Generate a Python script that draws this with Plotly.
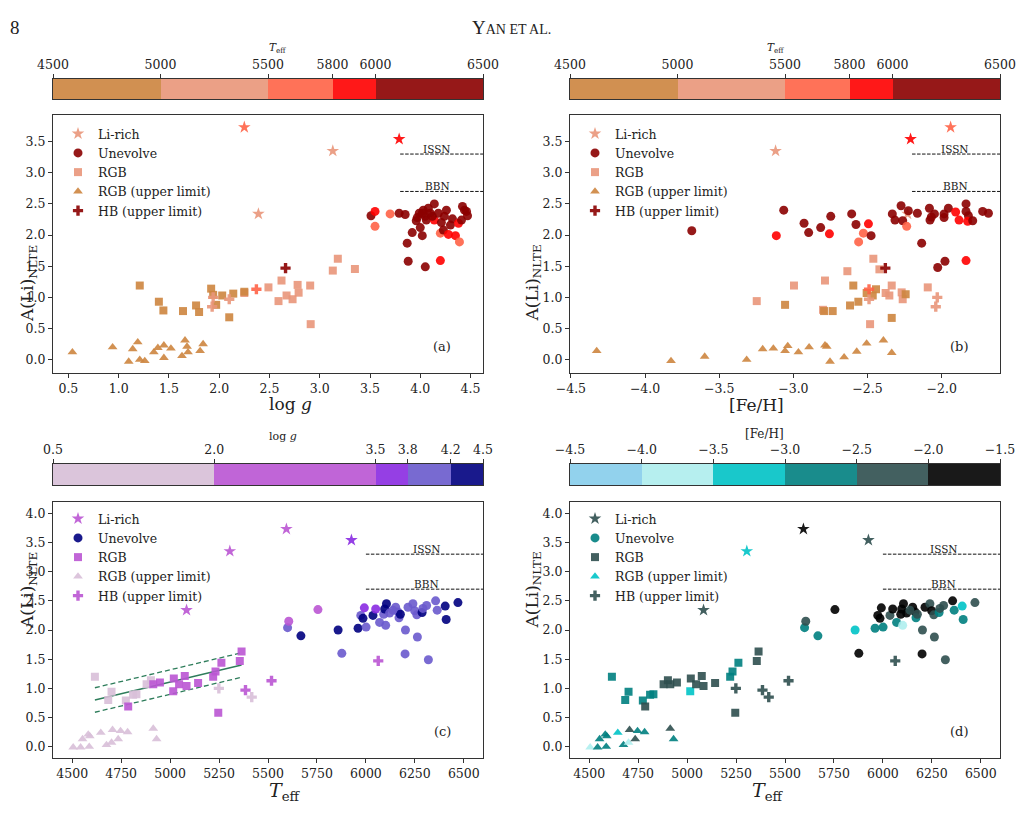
import numpy as np
import plotly.graph_objects as go

# ---------------- colour bins ----------------
TEFF_EDGES = [4500, 5000, 5500, 5800, 6000, 6500]
TEFF_LABELS = ["4500", "5000", "5500", "5800", "6000", "6500"]
TEFF_COLORS = ["#CD853F", "#E9967A", "#FF6347", "#FF0000", "#8B0000"]
LOGG_EDGES = [0.5, 2.0, 3.5, 3.8, 4.2, 4.5]
LOGG_LABELS = ["0.5", "2.0", "3.5", "3.8", "4.2", "4.5"]
LOGG_COLORS = ["#D8BFD8", "#BA55D3", "#8A2BE2", "#6A5ACD", "#000080"]
FEH_EDGES = [-4.5, -4.0, -3.5, -3.0, -2.5, -2.0, -1.5]
FEH_LABELS = ["\u22124.5", "\u22124.0", "\u22123.5", "\u22123.0", "\u22122.5", "\u22122.0", "\u22121.5"]
FEH_COLORS = ["#87CEEB", "#AFEEEE", "#00C3C6", "#008080", "#2F4F4F", "#000000"]

# reference levels
ISSN = 3.3
BBN = 2.7

# ---------------- shared catalogue (all panels) ----------------
LIRICH_TEFF = [5084, 5305, 5594, 5926]
LIRICH_LOGG = [2.39, 3.13, 2.25, 3.79]
LIRICH_FEH = [-2.23, -3.12, -1.94, -2.21]
LIRICH_ALI = [2.34, 3.35, 3.73, 3.54]

HB_TEFF = [5249, 5385, 5417, 5518, 6063]
HB_LOGG = [1.94, 2.10, 1.93, 2.37, 2.66]
HB_FEH = [-2.03, -2.49, -2.04, -2.49, -2.38]
HB_ALI = [1.00, 0.97, 0.85, 1.13, 1.47]

# ---------------- panels (c), (d): Teff vs A(Li) ----------------
UNEV_TEFF = [5600, 5606, 5668, 5755, 5858, 5877, 5960, 6001, 5974, 5992, 5985, 6036, 6050, 6070,
             6101, 6091, 6096, 6105, 6121, 6152, 6164, 6169, 6176, 6202, 6200, 6215, 6240, 6249,
             6260, 6263, 6287, 6291, 6310, 6319, 6356, 6364, 6405, 6410, 6470, 6138]
UNEV_ALI = [2.04, 2.15, 1.90, 2.35, 2.00, 1.60, 2.03, 2.05, 2.25, 2.38, 2.20, 2.25, 2.36, 2.13,
            2.08, 2.27, 2.36, 2.45, 2.29, 2.39, 2.31, 2.21, 2.27, 2.00, 1.59, 2.39, 2.45, 2.33,
            2.26, 1.88, 2.30, 2.37, 2.42, 1.49, 2.50, 2.34, 2.41, 2.18, 2.47, 2.34]
UNEV_LOGG = [4.00, 3.45, 4.35, 3.45, 4.30, 3.90, 4.30, 4.00, 4.10, 3.60, 4.25, 4.30, 3.55, 4.05,
             4.00, 4.10, 4.25, 4.30, 4.00, 4.05, 4.10, 4.15, 4.30, 4.00, 4.05, 4.10, 4.15, 4.10,
             4.00, 3.90, 4.40, 4.15, 4.10, 4.05, 4.15, 4.10, 4.40, 4.45, 4.40, 4.00]
UNEV_FEH = [-2.75, -2.30, -2.90, -1.85, -3.10, -1.98, -2.60, -2.80, -1.95, -1.90, -1.84, -2.33, -1.95, -2.58,
            -3.68, -1.82, -1.98, -1.84, -1.96, -1.72, -1.69, -2.90, -2.26, -2.14, -1.84, -1.98, -2.27, -1.79,
            -2.32, -2.20, -2.75, -2.08, -2.08, -2.03, -1.84, -2.60, -3.07, -2.82, -2.22, -2.05]

RGB_TEFF = [4616, 4701, 4684, 4774, 4786, 4811, 4828, 4880, 4902, 4914, 4948, 5016, 5019, 5046,
            5075, 5084, 5143, 5220, 5232, 5262, 5246, 5356, 5365]
RGB_ALI = [1.20, 0.94, 0.80, 0.79, 0.69, 0.89, 0.90, 1.07, 1.14, 1.07, 1.10, 0.95, 1.17, 1.07,
           1.21, 1.04, 1.09, 1.20, 1.29, 1.44, 0.58, 1.47, 1.63]
RGB_LOGG = [1.21, 1.40, 1.45, 1.64, 2.10, 1.77, 1.80, 1.92, 1.94, 2.03, 2.14, 2.59, 2.49, 2.67,
            2.78, 2.73, 2.79, 2.91, 2.62, 3.13, 2.91, 3.35, 3.18]
RGB_FEH = [-2.60, -2.62, -2.79, -2.74, -2.34, -2.62, -2.56, -2.46, -2.44, -2.49, -2.25, -3.25, -2.42, -2.35,
           -2.26, -2.27, -2.09, -2.99, -2.64, -2.80, -2.48, -2.38, -2.45]

RGBUL_TEFF = [4505, 4543, 4553, 4582, 4590, 4587, 4646, 4675, 4701, 4706, 4735, 4747, 4783, 4914, 4931]
RGBUL_ALI = [-0.01, -0.01, 0.13, 0.21, 0.18, 0.00, 0.24, 0.03, 0.07, 0.29, 0.13, 0.27, 0.25, 0.31, 0.13]
RGBUL_LOGG = [1.05, 1.21, 1.35, 1.39, 1.60, 1.25, 1.47, 1.58, 1.64, 1.14, 1.66, 1.62, 1.80, 1.62, 1.69]
RGBUL_FEH = [-3.83, -2.75, -2.97, -2.89, -2.78, -2.66, -3.21, -2.65, -3.60, -2.39, -2.34, -2.79, -2.89, -2.39, -2.57]

# linear fit to RGB stars in panel (c)
FIT_TEFF = [4616, 5365]
FIT_ALI = [0.80, 1.40]
FIT_SIGMA = 0.21

# ---------------- panel (a): log g vs A(Li) ----------------
A_UNEV_LOGG = [3.51, 3.55, 3.55, 3.70, 3.79, 3.85, 3.87, 3.92, 3.88, 3.96, 3.97, 3.99, 4.00, 4.02,
               4.03, 4.05, 4.05, 4.06, 4.08, 4.10, 4.14, 4.14, 4.18, 4.20, 4.20, 4.21, 4.23, 4.24,
               4.26, 4.28, 4.30, 4.32, 4.35, 4.38, 4.39, 4.41, 4.42, 4.44, 4.46, 4.47, 4.02, 4.12]
A_UNEV_ALI = [2.31, 2.38, 2.14, 2.34, 2.35, 2.33, 1.87, 2.04, 1.58, 2.23, 2.28, 2.35, 2.12, 1.99,
              2.40, 2.30, 1.49, 2.24, 2.43, 2.35, 2.50, 2.24, 2.35, 1.59, 2.03, 2.20, 2.08, 2.30,
              2.40, 2.01, 2.16, 2.26, 1.99, 2.19, 1.89, 2.24, 2.46, 2.40, 2.38, 2.31, 2.35, 2.30]
A_UNEV_TEFF = [6150, 5900, 5650, 5700, 6100, 6200, 6250, 6150, 6300, 6200, 6250, 6100, 6300, 6200,
               6350, 6250, 6300, 6150, 6300, 6200, 6350, 5950, 6250, 5900, 5700, 6300, 6200, 6250,
               6300, 5900, 6350, 6250, 5900, 5950, 5650, 6400, 6450, 6300, 6350, 6250, 6300, 6200]

A_RGB_LOGG = [2.25, 2.49, 2.62, 2.59, 2.67, 2.73, 2.78, 2.79, 2.905, 2.91, 3.13, 3.18, 3.35,
              1.21, 1.40, 1.445, 1.64, 1.77, 1.80, 1.92, 1.94, 1.97, 2.03, 2.10, 2.14, 2.25]
A_RGB_ALI = [1.07, 1.16, 1.27, 0.94, 1.03, 0.97, 1.20, 1.075, 1.19, 0.57, 1.43, 1.62, 1.455,
             1.19, 0.93, 0.79, 0.78, 0.87, 0.765, 1.14, 1.04, 0.88, 1.03, 0.68, 1.06, 1.09]
A_RGB_TEFF = [5220, 5260, 5230, 5020, 5050, 5150, 5210, 5080, 5140, 5250, 5360, 5370, 5350,
              4620, 4700, 4680, 4770, 4810, 4830, 4900, 4880, 4820, 4950, 4790, 4910, 4940]

A_RGBUL_LOGG = [0.54, 0.94, 1.10, 1.14, 1.19, 1.21, 1.26, 1.35, 1.39, 1.45, 1.45, 1.52, 1.63,
                1.66, 1.68, 1.69, 1.81, 1.84]
A_RGBUL_ALI = [0.12, 0.20, -0.03, 0.17, 0.28, 0.00, -0.02, 0.12, 0.19, 0.23, 0.03, 0.18, 0.06,
               0.31, 0.21, 0.12, 0.14, 0.25]
A_RGBUL_TEFF = [4600, 4650, 4550, 4580, 4700, 4590, 4540, 4600, 4620, 4640, 4680, 4620, 4700,
                4910, 4750, 4730, 4780, 4790]

# ---------------- panel (b): [Fe/H] vs A(Li) ----------------
B_UNEV_FEH = [-3.685, -3.065, -3.115, -2.928, -2.897, -2.816, -2.748, -2.757, -2.607, -2.578, -2.56,
              -2.528, -2.494, -2.476, -2.274, -2.333, -2.315, -2.225, -2.164, -2.263, -2.236, -2.135,
              -2.083, -2.049, -2.079, -1.984, -1.984, -1.955, -1.906, -1.883, -1.836, -1.836, -1.82,
              -1.825, -1.791, -1.724, -1.685, -1.978, -2.027, -1.836, -2.07]
B_UNEV_ALI = [2.07, 2.40, 1.99, 2.19, 2.04, 2.12, 2.30, 2.02, 2.34, 2.17, 1.89,
              2.03, 2.18, 1.99, 2.47, 2.34, 2.24, 2.39, 2.35, 2.23, 2.14, 1.87,
              2.43, 2.34, 2.24, 2.34, 2.28, 2.43, 2.37, 2.24, 2.50, 2.38, 2.31,
              2.22, 2.23, 2.38, 2.35, 1.58, 1.48, 1.59, 2.29]
B_UNEV_TEFF = [6100, 6200, 5900, 6150, 6250, 6300, 6200, 5950, 6150, 6250, 5650,
               5700, 5900, 6300, 6200, 6250, 6150, 6300, 6200, 6250, 5650, 6350,
               6200, 6300, 6250, 6150, 6200, 6300, 5900, 5950, 6350, 6250, 6300,
               5900, 6200, 6400, 6450, 6300, 6200, 5900, 6250]

B_RGB_FEH = [-3.247, -2.996, -2.787, -2.636, -2.461, -2.42, -2.378, -2.353, -2.337, -2.27, -2.263,
             -2.094, -2.483, -2.80,
             -3.056, -2.793, -2.735, -2.618, -2.596, -2.562, -2.506, -2.465, -2.443, -2.337, -2.243]
B_RGB_ALI = [0.94, 1.19, 1.27, 1.42, 1.62, 1.45, 1.07, 1.03, 1.19, 1.08, 0.97,
             1.16, 0.57, 0.80,
             0.88, 0.78, 0.78, 0.87, 1.19, 0.93, 1.07, 1.03, 1.13, 0.67, 1.05]
B_RGB_TEFF = [5020, 5220, 5080, 5260, 5370, 5350, 5050, 5100, 5230, 5150, 5140,
              5250, 5250, 5010,
              4680, 4770, 4700, 4810, 4620, 4830, 4900, 4950, 4910, 4790, 4880]

B_RGBUL_FEH = [-4.326, -3.825, -3.598, -3.315, -3.207, -3.135, -3.056, -3.038, -2.966, -2.894, -2.787,
               -2.775, -2.753, -2.658, -2.573, -2.506, -2.393, -2.337]
B_RGBUL_ALI = [0.14, -0.02, 0.05, 0.00, 0.17, 0.18, 0.14, 0.22, 0.12, 0.20, 0.23,
               0.21, -0.03, 0.04, 0.13, 0.26, 0.31, 0.11]
B_RGBUL_TEFF = [4580, 4505, 4700, 4646, 4600, 4620, 4553, 4650, 4930, 4590, 4780,
                4760, 4543, 4675, 4735, 4747, 4914, 4931]

# ---------------- layout helpers ----------------
W, H = 1022, 821
FONT = "DejaVu Serif"
INK = "#222222"


def fx(p):
    return p / W


def fy(p):
    return 1 - p / H


def stepped(edges, colors):
    lo, hi = edges[0], edges[-1]
    cs = []
    for i, c in enumerate(colors):
        cs.append([(edges[i] - lo) / (hi - lo), c])
        cs.append([(edges[i + 1] - lo) / (hi - lo), c])
    return cs


def fmt(v):
    return ("%.1f" % v).replace("-", "\u2212")


fig = go.Figure()

SYM = {"star": 9.5, "circle": 9, "square": 8, "triangle-up": 8.5, "cross": 8.5}


def add_pts(x, y, c, symbol, edges, colors, xa, ya):
    fig.add_trace(go.Scatter(
        x=x, y=y, mode="markers", xaxis=xa, yaxis=ya, showlegend=False, hoverinfo="skip",
        marker=dict(symbol=symbol, size=SYM[symbol], color=c,
                    colorscale=stepped(edges, colors), cmin=edges[0], cmax=edges[-1],
                    opacity=0.9, line=dict(width=0))))


def add_leg(name, symbol, color, legend, xa, ya):
    fig.add_trace(go.Scatter(
        x=[None], y=[None], mode="markers", xaxis=xa, yaxis=ya, name=name, legend=legend,
        marker=dict(symbol=symbol, size=SYM[symbol], color=color, opacity=0.9, line=dict(width=0))))


NAMES = ["Li-rich", "Unevolve", "RGB", "RGB (upper limit)", "HB (upper limit)"]
SYMS = ["star", "circle", "square", "triangle-up", "cross"]

# panel (a)
add_pts(LIRICH_LOGG, LIRICH_ALI, LIRICH_TEFF, "star", TEFF_EDGES, TEFF_COLORS, "x", "y")
add_pts(A_UNEV_LOGG, A_UNEV_ALI, A_UNEV_TEFF, "circle", TEFF_EDGES, TEFF_COLORS, "x", "y")
add_pts(A_RGB_LOGG, A_RGB_ALI, A_RGB_TEFF, "square", TEFF_EDGES, TEFF_COLORS, "x", "y")
add_pts(A_RGBUL_LOGG, A_RGBUL_ALI, A_RGBUL_TEFF, "triangle-up", TEFF_EDGES, TEFF_COLORS, "x", "y")
add_pts(HB_LOGG, HB_ALI, HB_TEFF, "cross", TEFF_EDGES, TEFF_COLORS, "x", "y")
# panel (b)
add_pts(LIRICH_FEH, LIRICH_ALI, LIRICH_TEFF, "star", TEFF_EDGES, TEFF_COLORS, "x2", "y2")
add_pts(B_UNEV_FEH, B_UNEV_ALI, B_UNEV_TEFF, "circle", TEFF_EDGES, TEFF_COLORS, "x2", "y2")
add_pts(B_RGB_FEH, B_RGB_ALI, B_RGB_TEFF, "square", TEFF_EDGES, TEFF_COLORS, "x2", "y2")
add_pts(B_RGBUL_FEH, B_RGBUL_ALI, B_RGBUL_TEFF, "triangle-up", TEFF_EDGES, TEFF_COLORS, "x2", "y2")
add_pts(HB_FEH, HB_ALI, HB_TEFF, "cross", TEFF_EDGES, TEFF_COLORS, "x2", "y2")
# panel (c)
fit_hi = [v + FIT_SIGMA for v in FIT_ALI]
fit_lo = [v - FIT_SIGMA for v in FIT_ALI]
for yy, dash in ((FIT_ALI, "solid"), (fit_hi, "5px,3px"), (fit_lo, "5px,3px")):
    fig.add_trace(go.Scatter(x=FIT_TEFF, y=yy, mode="lines", xaxis="x3", yaxis="y3", showlegend=False,
                             hoverinfo="skip", line=dict(color="#2E7D5B", width=1.3, dash=dash)))
add_pts(LIRICH_TEFF, LIRICH_ALI, LIRICH_LOGG, "star", LOGG_EDGES, LOGG_COLORS, "x3", "y3")
add_pts(UNEV_TEFF, UNEV_ALI, UNEV_LOGG, "circle", LOGG_EDGES, LOGG_COLORS, "x3", "y3")
add_pts(RGB_TEFF, RGB_ALI, RGB_LOGG, "square", LOGG_EDGES, LOGG_COLORS, "x3", "y3")
add_pts(RGBUL_TEFF, RGBUL_ALI, RGBUL_LOGG, "triangle-up", LOGG_EDGES, LOGG_COLORS, "x3", "y3")
add_pts(HB_TEFF, HB_ALI, HB_LOGG, "cross", LOGG_EDGES, LOGG_COLORS, "x3", "y3")
# panel (d)
add_pts(LIRICH_TEFF, LIRICH_ALI, LIRICH_FEH, "star", FEH_EDGES, FEH_COLORS, "x4", "y4")
add_pts(UNEV_TEFF, UNEV_ALI, UNEV_FEH, "circle", FEH_EDGES, FEH_COLORS, "x4", "y4")
add_pts(RGB_TEFF, RGB_ALI, RGB_FEH, "square", FEH_EDGES, FEH_COLORS, "x4", "y4")
add_pts(RGBUL_TEFF, RGBUL_ALI, RGBUL_FEH, "triangle-up", FEH_EDGES, FEH_COLORS, "x4", "y4")
add_pts(HB_TEFF, HB_ALI, HB_FEH, "cross", FEH_EDGES, FEH_COLORS, "x4", "y4")

# legends
LEG_COLS = {
    "legend": [TEFF_COLORS[1], TEFF_COLORS[4], TEFF_COLORS[1], TEFF_COLORS[0], TEFF_COLORS[4]],
    "legend2": [TEFF_COLORS[1], TEFF_COLORS[4], TEFF_COLORS[1], TEFF_COLORS[0], TEFF_COLORS[4]],
    "legend3": [LOGG_COLORS[1], LOGG_COLORS[4], LOGG_COLORS[1], LOGG_COLORS[0], LOGG_COLORS[1]],
    "legend4": [FEH_COLORS[4], FEH_COLORS[3], FEH_COLORS[4], FEH_COLORS[2], FEH_COLORS[4]],
}
LEG_AX = {"legend": ("x", "y"), "legend2": ("x2", "y2"), "legend3": ("x3", "y3"), "legend4": ("x4", "y4")}
for lg, cols in LEG_COLS.items():
    for nm, sy, col in zip(NAMES, SYMS, cols):
        add_leg(nm, sy, col, lg, *LEG_AX[lg])

# colourbars as heatmaps
CBARS = [("x5", "y5", TEFF_EDGES, TEFF_COLORS), ("x6", "y6", TEFF_EDGES, TEFF_COLORS),
         ("x7", "y7", LOGG_EDGES, LOGG_COLORS), ("x8", "y8", FEH_EDGES, FEH_COLORS)]
for xa, ya, edges, cols in CBARS:
    e = np.array(edges, dtype=float)
    mids = (e[:-1] + e[1:]) / 2
    fig.add_trace(go.Heatmap(z=[list(mids)], x=list(e), y=[0, 1], xaxis=xa, yaxis=ya,
                             colorscale=stepped(edges, cols), zmin=edges[0], zmax=edges[-1],
                             showscale=False, opacity=0.9, hoverinfo="skip"))

# ---------------- axes ----------------
AX_LINE = "#333333"
base_ax = dict(showgrid=False, zeroline=False, showline=True, linecolor=AX_LINE, linewidth=1,
               mirror=True, ticks="outside", ticklen=4, tickwidth=1, tickcolor=AX_LINE,
               automargin=False, tickfont=dict(family=FONT, size=12.5, color=INK))

A_X = [53, 483]
B_X = [570, 1000]
TOP_Y = [115, 373]
BOT_Y = [502, 757.7]

ali_ticks_top = list(np.arange(0, 3.51, 0.5))
ali_ticks_bot = list(np.arange(0, 4.01, 0.5))
teff_ticks = list(range(4500, 6501, 250))
logg_ticks = list(np.arange(0.5, 4.51, 0.5))
feh_ticks = list(np.arange(-4.5, -1.99, 0.5))

layout = dict(
    width=W, height=H, margin=dict(l=0, r=0, t=0, b=0, autoexpand=False),
    paper_bgcolor="white", plot_bgcolor="white", showlegend=True,
    xaxis=dict(base_ax, domain=[fx(A_X[0]), fx(A_X[1])], range=[0.347, 4.624], anchor="y",
               tickvals=logg_ticks, ticktext=[fmt(v) for v in logg_ticks]),
    yaxis=dict(base_ax, domain=[fy(TOP_Y[1]), fy(TOP_Y[0])], range=[-0.214, 3.927], anchor="x",
               tickvals=ali_ticks_top, ticktext=[fmt(v) for v in ali_ticks_top]),
    xaxis2=dict(base_ax, domain=[fx(B_X[0]), fx(B_X[1])], range=[-4.506, -1.607], anchor="y2",
                tickvals=feh_ticks, ticktext=[fmt(v) for v in feh_ticks]),
    yaxis2=dict(base_ax, domain=[fy(TOP_Y[1]), fy(TOP_Y[0])], range=[-0.214, 3.927], anchor="x2",
                tickvals=ali_ticks_top, ticktext=[fmt(v) for v in ali_ticks_top]),
    xaxis3=dict(base_ax, domain=[fx(A_X[0]), fx(A_X[1])], range=[4402, 6598], anchor="y3",
                tickvals=teff_ticks, ticktext=[str(v) for v in teff_ticks]),
    yaxis3=dict(base_ax, domain=[fy(BOT_Y[1]), fy(BOT_Y[0])], range=[-0.189, 4.194], anchor="x3",
                tickvals=ali_ticks_bot, ticktext=[fmt(v) for v in ali_ticks_bot]),
    xaxis4=dict(base_ax, domain=[fx(B_X[0]), fx(B_X[1])], range=[4402, 6598], anchor="y4",
                tickvals=teff_ticks, ticktext=[str(v) for v in teff_ticks]),
    yaxis4=dict(base_ax, domain=[fy(BOT_Y[1]), fy(BOT_Y[0])], range=[-0.189, 4.194], anchor="x4",
                tickvals=ali_ticks_bot, ticktext=[fmt(v) for v in ali_ticks_bot]),
)

CB_TOP = [79, 99]
CB_BOT = [463.5, 485]
cb_specs = [("5", A_X, CB_TOP, TEFF_EDGES, TEFF_LABELS), ("6", B_X, CB_TOP, TEFF_EDGES, TEFF_LABELS),
            ("7", A_X, CB_BOT, LOGG_EDGES, LOGG_LABELS), ("8", B_X, CB_BOT, FEH_EDGES, FEH_LABELS)]
for n, xs, ys, edges, labels in cb_specs:
    layout["xaxis" + n] = dict(base_ax, domain=[fx(xs[0]), fx(xs[1])], range=[edges[0], edges[-1]],
                               anchor="y" + n, side="top", tickvals=edges, ticktext=labels)
    layout["yaxis" + n] = dict(showgrid=False, zeroline=False, showline=True, linecolor=AX_LINE,
                               linewidth=1, mirror=True, ticks="", showticklabels=False,
                               automargin=False,
                               domain=[fy(ys[1]), fy(ys[0])], range=[0, 1], anchor="x" + n)

leg_base = dict(xanchor="left", yanchor="top", bgcolor="rgba(0,0,0,0)", borderwidth=0,
                font=dict(family=FONT, size=12.5, color=INK), itemsizing="trace")
layout["legend"] = dict(leg_base, x=fx(58), y=fy(119))
layout["legend2"] = dict(leg_base, x=fx(575), y=fy(119))
layout["legend3"] = dict(leg_base, x=fx(58), y=fy(504))
layout["legend4"] = dict(leg_base, x=fx(575), y=fy(504))

fig.update_layout(**layout)

# ---------------- reference lines (ISSN / BBN) ----------------
REF_START = {"x": 3.8, "x2": -2.2, "x3": 6000, "x4": 6000}
REF_END = {"x": 4.624, "x2": -1.607, "x3": 6598, "x4": 6598}
LABEL_X = {"x": 4.17, "x2": -1.91, "x3": 6310, "x4": 6310}
YREF = {"x": "y", "x2": "y2", "x3": "y3", "x4": "y4"}
for xa in REF_START:
    for lvl, txt_ in ((ISSN, "ISSN"), (BBN, "BBN")):
        fig.add_shape(type="line", xref=xa, yref=YREF[xa], x0=REF_START[xa], x1=REF_END[xa],
                      y0=lvl, y1=lvl, line=dict(color="#111111", width=1, dash="3.5px,1.5px"))
        fig.add_annotation(xref=xa, yref=YREF[xa], x=LABEL_X[xa], y=lvl, text=txt_, showarrow=False,
                           yanchor="bottom", yshift=-3, font=dict(family=FONT, size=10.5, color=INK))

# panel letters
for xa, lab in (("x", "(a)"), ("x2", "(b)"), ("x3", "(c)"), ("x4", "(d)")):
    fig.add_annotation(xref=xa + " domain", yref=YREF[xa] + " domain", x=0.93, y=0.065, text=lab,
                       showarrow=False, font=dict(family=FONT, size=13, color=INK))


def txt(x, y, s, size, angle=0):
    fig.add_annotation(xref="paper", yref="paper", x=fx(x), y=fy(y), text=s, showarrow=False,
                       textangle=angle, borderpad=0, font=dict(family=FONT, size=size, color=INK))


ALI_TITLE = "A(Li)<sub>NLTE</sub>"
TEFF_TITLE = "<i>T</i><sub>eff</sub>"
txt(16, 244, ALI_TITLE, 17, -90)
txt(533, 244, ALI_TITLE, 17, -90)
txt(16, 630, ALI_TITLE, 17, -90)
txt(533, 630, ALI_TITLE, 17, -90)
txt(268, 404, "log <i>g</i>", 17)
txt(785, 405, "[Fe/H]", 17)
txt(268, 805, TEFF_TITLE, 19)
txt(785, 805, TEFF_TITLE, 19)
txt(268, 40, TEFF_TITLE, 10.5)
txt(785, 40, TEFF_TITLE, 10.5)
txt(268, 436, "log <i>g</i>", 11)
txt(785, 434, "[Fe/H]", 12)

# page header
fig.add_annotation(xref="paper", yref="paper", x=fx(8), y=fy(15), xanchor="left", text="8",
                   showarrow=False, font=dict(family="Liberation Serif", size=19, color=INK))
fig.add_annotation(xref="paper", yref="paper", x=fx(511), y=fy(15), text="Y<span style='font-size:14px'>AN ET AL.</span>",
                   showarrow=False, font=dict(family="Liberation Serif", size=19, color=INK))

fig.write_html("out.html")
